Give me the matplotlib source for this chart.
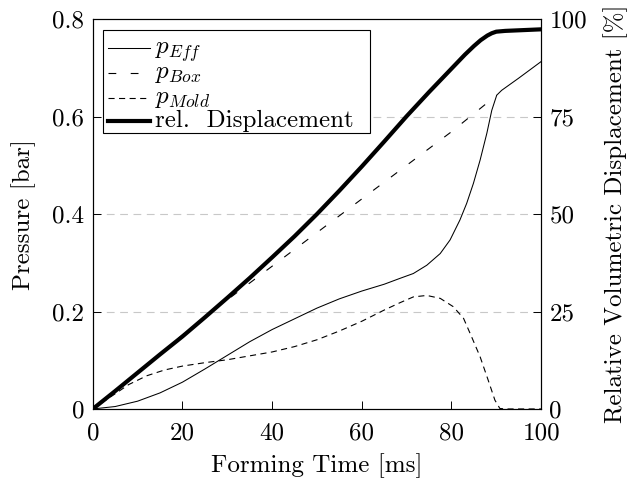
import matplotlib
matplotlib.use("Agg")
import matplotlib.pyplot as plt
from matplotlib.lines import Line2D
from matplotlib.patches import Rectangle

plt.rcParams['font.family'] = ['cmr10', 'DejaVu Serif']
plt.rcParams['mathtext.fontset'] = 'cm'
plt.rcParams['axes.formatter.use_mathtext'] = True

# forming time [ms] and pressures [bar]
t_eff = [0, 5, 10, 15, 20, 25, 30, 35, 40, 45, 50, 55, 60, 65, 68.5, 71.5, 74.5,
         77.5, 79.7, 81.9, 83.4, 84.9, 86.4, 87.9, 89.0, 90.1, 91.2, 95, 100]
p_eff = [0, 0.005, 0.016, 0.033, 0.055, 0.082, 0.11, 0.138, 0.163, 0.185, 0.207,
         0.226, 0.242, 0.256, 0.268, 0.278, 0.295, 0.319, 0.347, 0.388, 0.422,
         0.463, 0.511, 0.566, 0.613, 0.644, 0.654, 0.679, 0.713]

t_box = [0, 5, 10, 15, 20, 26.5, 30, 40, 50, 60, 70, 80, 90.1]
p_box = [0, 0.037, 0.075, 0.113, 0.152, 0.2, 0.224, 0.293, 0.362, 0.431, 0.5,
         0.569, 0.644]

t_mold = [0, 4, 8, 12, 16, 20, 25, 30, 35, 40, 45, 50, 55, 60, 65, 68.5, 71.5,
          74.5, 77.5, 80.4, 82.7, 84.5, 86.4, 88.2, 89.7, 90.8, 92, 100]
p_mold = [0, 0.025, 0.05, 0.068, 0.08, 0.088, 0.095, 0.101, 0.109, 0.117, 0.128,
          0.142, 0.16, 0.18, 0.203, 0.218, 0.23, 0.233, 0.227, 0.21, 0.186, 0.148,
          0.107, 0.059, 0.018, 0.001, 0, 0]

# relative volumetric displacement [%]
t_disp = [0, 5, 10, 15, 20, 25, 30, 35, 40, 45, 50, 55, 60, 65, 70, 75, 80, 83,
          85, 86.5, 88, 89, 90, 92, 95, 100]
disp = [0, 4.6, 9.3, 14.0, 18.6, 23.5, 28.5, 33.6, 38.9, 44.3, 50.0, 56.0, 62.2,
        68.6, 75.1, 81.3, 87.3, 90.9, 93.1, 94.6, 95.8, 96.4, 96.8, 97.0, 97.15, 97.4]

labels = [r'$p_{Eff}$', r'$p_{Box}$', r'$p_{Mold}$', 'rel.  Displacement']

fig = plt.figure(figsize=(6.27, 4.8), dpi=100)
ax = fig.add_axes([0.148, 0.148, 0.715, 0.812])
ax2 = ax.twinx()

for y in [0.2, 0.4, 0.6]:
    ax.axhline(y, color='#c8c8c8', lw=0.8, dashes=(7, 5), zorder=0)

styles = [dict(lw=0.75), dict(lw=0.8, dashes=(7, 13)),
          dict(lw=0.8, dashes=(5.5, 4)), dict(lw=3.0)]

ax.plot(t_eff, p_eff, color='black', **styles[0])
ax.plot(t_box, p_box, color='black', **styles[1])
ax.plot(t_mold, p_mold, color='black', **styles[2])
ax2.plot(t_disp, disp, color='black', **styles[3])

ax.set_xlim(0, 100)
ax.set_ylim(0, 0.8)
ax2.set_ylim(0, 100)

ax.set_xticks([0, 20, 40, 60, 80, 100], ['0', '20', '40', '60', '80', '100'])
ax.set_yticks([0, 0.2, 0.4, 0.6, 0.8], ['0', '0.2', '0.4', '0.6', '0.8'])
ax2.set_yticks([0, 25, 50, 75, 100], ['0', '25', '50', '75', '100'])

for a in (ax, ax2):
    a.tick_params(direction='in', length=6, width=0.7, labelsize=18, pad=6)
    for s in a.spines.values():
        s.set_linewidth(0.8)
ax.tick_params(axis='x', pad=10)

ax.set_xlabel('Forming Time [ms]', fontsize=18, labelpad=6)
ax.set_ylabel('Pressure [bar]', fontsize=18, labelpad=12)
ax2.set_ylabel('Relative Volumetric Displacement [%]', fontsize=18, labelpad=12)

# legend box drawn by hand so the rows stay evenly spaced
tr = ax2.transAxes
ax2.add_patch(Rectangle((0.022, 0.708), 0.596, 0.264, transform=tr,
                        facecolor='white', edgecolor='black', lw=0.8, zorder=5))
row_y = [0.926, 0.862, 0.798, 0.738]
for lab, st, y in zip(labels, styles, row_y):
    ax2.add_line(Line2D([0.034, 0.127], [y, y], transform=tr, color='black',
                        zorder=6, **st))
    ax2.text(0.138, y - 0.014, lab, transform=tr, fontsize=18,
             va='baseline', ha='left', zorder=6)

fig.savefig('out.png', dpi=100)
